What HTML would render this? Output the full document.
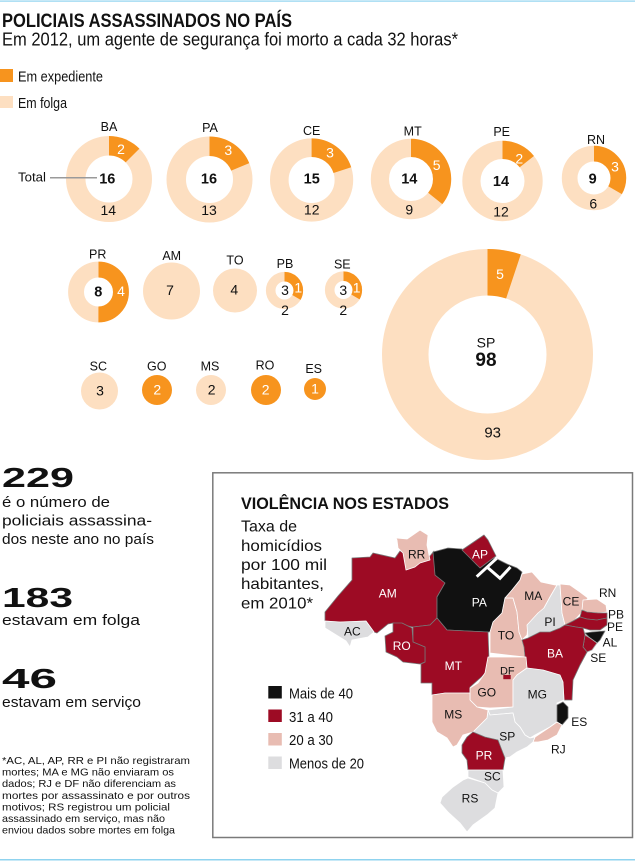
<!DOCTYPE html>
<html>
<head>
<meta charset="utf-8">
<style>
html,body{margin:0;padding:0;background:#fff;}
svg{display:block;}
text{font-family:"Liberation Sans",sans-serif;fill:#111;}
.w{fill:#fff;}
.b{font-weight:bold;}
</style>
</head>
<body>
<svg width="635" height="865" viewBox="0 0 635 865" xmlns="http://www.w3.org/2000/svg">
<rect width="635" height="865" fill="#fff"/>
<!-- top / bottom blue lines -->
<rect x="0" y="0.5" width="635" height="1.2" fill="#8fd3ef"/>
<rect x="0" y="859" width="635" height="1.5" fill="#8fd3ef"/>

<!-- Title -->
<text x="2" y="27" font-size="19.5" font-weight="bold" textLength="290" lengthAdjust="spacingAndGlyphs">POLICIAIS ASSASSINADOS NO PAÍS</text>
<text x="2" y="45.5" font-size="18" textLength="456" lengthAdjust="spacingAndGlyphs">Em 2012, um agente de segurança foi morto a cada 32 horas*</text>

<!-- legend -->
<rect x="0" y="69" width="13" height="13" fill="#f7941e"/>
<text x="18" y="81.5" font-size="14.5" textLength="85" lengthAdjust="spacingAndGlyphs">Em expediente</text>
<rect x="0" y="96" width="13" height="12" fill="#fddfc1"/>
<text x="18" y="108" font-size="14.5" textLength="49" lengthAdjust="spacingAndGlyphs">Em folga</text>

<!-- Row 1 donuts -->
<g fill="none">
  <circle cx="109" cy="179" r="33.25" stroke="#fddfc1" stroke-width="19.5"/>
  <circle cx="109" cy="179" r="33.25" stroke="#f7941e" stroke-width="19.5" stroke-dasharray="26.1 400" transform="rotate(-90 109 179)"/>
  <circle cx="209.5" cy="179.5" r="33.25" stroke="#fddfc1" stroke-width="19.5"/>
  <circle cx="209.5" cy="179.5" r="33.25" stroke="#f7941e" stroke-width="19.5" stroke-dasharray="39.2 400" transform="rotate(-90 209.5 179.5)"/>
  <circle cx="311.6" cy="180" r="32.3" stroke="#fddfc1" stroke-width="18.6"/>
  <circle cx="311.6" cy="180" r="32.3" stroke="#f7941e" stroke-width="18.6" stroke-dasharray="40.6 400" transform="rotate(-90 311.6 180)"/>
  <circle cx="411" cy="179" r="31.1" stroke="#fddfc1" stroke-width="18.2"/>
  <circle cx="411" cy="179" r="31.1" stroke="#f7941e" stroke-width="18.2" stroke-dasharray="69.8 400" transform="rotate(-90 411 179)"/>
  <circle cx="502.5" cy="181" r="31.1" stroke="#fddfc1" stroke-width="18.2"/>
  <circle cx="502.5" cy="181" r="31.1" stroke="#f7941e" stroke-width="18.2" stroke-dasharray="27.9 400" transform="rotate(-90 502.5 181)"/>
  <circle cx="594" cy="178" r="24.35" stroke="#fddfc1" stroke-width="15.7"/>
  <circle cx="594" cy="178" r="24.35" stroke="#f7941e" stroke-width="15.7" stroke-dasharray="51 400" transform="rotate(-90 594 178)"/>
  <circle cx="98.5" cy="292" r="22.45" stroke="#fddfc1" stroke-width="15.9"/>
  <circle cx="98.5" cy="292" r="22.45" stroke="#f7941e" stroke-width="15.9" stroke-dasharray="70.5 400" transform="rotate(-90 98.5 292)"/>
  <circle cx="284.5" cy="290.5" r="13.8" stroke="#fddfc1" stroke-width="9.6"/>
  <circle cx="284.5" cy="290.5" r="13.8" stroke="#f7941e" stroke-width="9.6" stroke-dasharray="28.9 400" transform="rotate(-90 284.5 290.5)"/>
  <circle cx="343.5" cy="290" r="13.8" stroke="#fddfc1" stroke-width="9.6"/>
  <circle cx="343.5" cy="290" r="13.8" stroke="#f7941e" stroke-width="9.6" stroke-dasharray="28.9 400" transform="rotate(-90 343.5 290)"/>
  <circle cx="487.5" cy="354.5" r="82.25" stroke="#fddfc1" stroke-width="46.5"/>
  <circle cx="487.5" cy="354.5" r="82.25" stroke="#f7941e" stroke-width="46.5" stroke-dasharray="26.4 700" transform="rotate(-90 487.5 354.5)"/>
</g>
<!-- full circles -->
<circle cx="171.5" cy="291" r="28.5" fill="#fddfc1"/>
<circle cx="235" cy="290.5" r="22" fill="#fddfc1"/>
<circle cx="99.5" cy="391" r="18.5" fill="#fddfc1"/>
<circle cx="157" cy="390" r="15" fill="#f7941e"/>
<circle cx="211" cy="390" r="15" fill="#fddfc1"/>
<circle cx="266" cy="390" r="15" fill="#f7941e"/>
<circle cx="315" cy="389" r="11" fill="#f7941e"/>

<!-- Total pointer -->
<text x="18" y="181.5" font-size="13" textLength="28" lengthAdjust="spacingAndGlyphs">Total</text>
<line x1="50" y1="177.7" x2="97" y2="177.7" stroke="#9a9a9a" stroke-width="1.5"/>

<!-- labels -->
<g font-size="12.5" text-anchor="middle">
  <text x="109" y="131.2">BA</text>
  <text x="210" y="132.2">PA</text>
  <text x="311.7" y="135.2">CE</text>
  <text x="412.7" y="135.5">MT</text>
  <text x="501.7" y="136.2">PE</text>
  <text x="596" y="143.8">RN</text>
  <text x="97.7" y="258.5">PR</text>
  <text x="171.7" y="260.2">AM</text>
  <text x="235" y="264.5">TO</text>
  <text x="285" y="267.8">PB</text>
  <text x="342.3" y="268.5">SE</text>
  <text x="98.3" y="370.5">SC</text>
  <text x="156.7" y="370.5">GO</text>
  <text x="210" y="370.5">MS</text>
  <text x="265" y="369.5">RO</text>
  <text x="313.7" y="372.8">ES</text>
</g>
<!-- totals -->
<g font-size="14.5" font-weight="bold" text-anchor="middle">
  <text x="107.3" y="183.5">16</text>
  <text x="209" y="183.5">16</text>
  <text x="311.7" y="183.5">15</text>
  <text x="409.3" y="183.5">14</text>
  <text x="501" y="186">14</text>
  <text x="592.7" y="183.5">9</text>
  <text x="98.3" y="296.3">8</text>
</g>
<!-- bottom numbers -->
<g font-size="14" text-anchor="middle">
  <text x="108.3" y="215">14</text>
  <text x="209" y="215">13</text>
  <text x="311.7" y="214.3">12</text>
  <text x="409.3" y="214.3">9</text>
  <text x="501" y="216.7">12</text>
  <text x="593.3" y="208.3">6</text>
  <text x="170" y="295">7</text>
  <text x="234.3" y="294.3">4</text>
  <text x="285" y="295">3</text>
  <text x="285" y="315">2</text>
  <text x="343.3" y="295">3</text>
  <text x="343.3" y="315">2</text>
  <text x="100" y="395.7">3</text>
  <text x="211.7" y="394.3">2</text>
</g>
<!-- orange numbers -->
<g font-size="14" text-anchor="middle">
  <text class="w" x="121" y="154">2</text>
  <text class="w" x="228.3" y="155">3</text>
  <text class="w" x="330" y="157.7">3</text>
  <text class="w" x="436.7" y="170">5</text>
  <text class="w" x="519.3" y="163.3">2</text>
  <text class="w" x="615" y="171.7">3</text>
  <text class="w" x="121" y="296">4</text>
  <text class="w" x="298.3" y="292.7">1</text>
  <text class="w" x="356.7" y="292.7">1</text>
  <text class="w" x="157.3" y="394.3">2</text>
  <text class="w" x="265.7" y="394.3">2</text>
  <text class="w" x="315" y="393.3">1</text>
  <text class="w" x="500" y="279">5</text>
</g>
<!-- SP texts -->
<text x="486" y="347.3" font-size="14" text-anchor="middle">SP</text>
<text x="486" y="366" font-size="19" font-weight="bold" text-anchor="middle">98</text>
<text x="492.7" y="437.5" font-size="15" text-anchor="middle">93</text>

<!-- Left stats -->
<text x="2" y="487" font-size="28" font-weight="bold" textLength="72" lengthAdjust="spacingAndGlyphs">229</text>
<g font-size="14.5">
  <text x="2" y="507" textLength="108" lengthAdjust="spacingAndGlyphs">é o número de</text>
  <text x="2" y="525.5" textLength="150" lengthAdjust="spacingAndGlyphs">policiais assassina-</text>
  <text x="2" y="543.8" textLength="152" lengthAdjust="spacingAndGlyphs">dos neste ano no país</text>
</g>
<text x="2" y="607" font-size="28" font-weight="bold" textLength="71" lengthAdjust="spacingAndGlyphs">183</text>
<text x="2" y="625" font-size="14.5" textLength="138" lengthAdjust="spacingAndGlyphs">estavam em folga</text>
<text x="2" y="688" font-size="28" font-weight="bold" textLength="55" lengthAdjust="spacingAndGlyphs">46</text>
<text x="2" y="707" font-size="14.5" textLength="139" lengthAdjust="spacingAndGlyphs">estavam em serviço</text>

<!-- footnote -->
<g font-size="10.5">
  <text x="2" y="764" textLength="188" lengthAdjust="spacingAndGlyphs">*AC, AL, AP, RR e PI não registraram</text>
  <text x="2" y="775.6" textLength="172" lengthAdjust="spacingAndGlyphs">mortes; MA e MG não enviaram os</text>
  <text x="2" y="787.2" textLength="174" lengthAdjust="spacingAndGlyphs">dados; RJ e DF não diferenciam as</text>
  <text x="2" y="798.8" textLength="188" lengthAdjust="spacingAndGlyphs">mortes por assassinato e por outros</text>
  <text x="2" y="810.4" textLength="168" lengthAdjust="spacingAndGlyphs">motivos; RS registrou um policial</text>
  <text x="2" y="822" textLength="163" lengthAdjust="spacingAndGlyphs">assassinado em serviço, mas não</text>
  <text x="2" y="833.6" textLength="173" lengthAdjust="spacingAndGlyphs">enviou dados sobre mortes em folga</text>
</g>

<!-- Map box -->
<rect x="212.8" y="472.8" width="419.7" height="364.7" fill="none" stroke="#7a7a7a" stroke-width="1.5"/>
<text x="241" y="509" font-size="17" font-weight="bold" textLength="208" lengthAdjust="spacingAndGlyphs">VIOLÊNCIA NOS ESTADOS</text>
<g font-size="16">
  <text x="241" y="531.7" textLength="56" lengthAdjust="spacingAndGlyphs">Taxa de</text>
  <text x="241" y="551" textLength="81" lengthAdjust="spacingAndGlyphs">homicídios</text>
  <text x="241" y="570.2" textLength="86" lengthAdjust="spacingAndGlyphs">por 100 mil</text>
  <text x="241" y="589.2" textLength="83" lengthAdjust="spacingAndGlyphs">habitantes,</text>
  <text x="241" y="608.3" textLength="72" lengthAdjust="spacingAndGlyphs">em 2010*</text>
</g>

<!-- map legend -->
<rect x="268.3" y="686" width="13.5" height="12.5" fill="#111"/>
<rect x="268.3" y="709.5" width="13.5" height="12.5" fill="#9d0b24"/>
<rect x="268.3" y="733" width="13.5" height="12.5" fill="#e8bcb2"/>
<rect x="268.3" y="756.5" width="13.5" height="12.5" fill="#dddddf"/>
<g font-size="15">
  <text x="289" y="698.3" textLength="64" lengthAdjust="spacingAndGlyphs">Mais de 40</text>
  <text x="289" y="721.8" textLength="44" lengthAdjust="spacingAndGlyphs">31 a 40</text>
  <text x="289" y="745.2" textLength="44" lengthAdjust="spacingAndGlyphs">20 a 30</text>
  <text x="289" y="768.6" textLength="75" lengthAdjust="spacingAndGlyphs">Menos de 20</text>
</g>

<!-- Map states -->
<g stroke-width="0.8" stroke-linejoin="round">
  <polygon fill="#9d0b24" stroke="#777" points="325,612 338,596 352,580 352,558 370,557 373,553 395,558 400,551 410,556 430,556 434,551 435,575 445,583 437,597 437,618 430,625 413,627 393,623 388,624 377,633 374,632 366,621 340,622 325,621"/>
  <polygon fill="#dddddf" stroke="#fff" points="325,621 340,622 366,621 374,632 368,637 352,640 350,647 346,641 325,628"/>
  <polygon fill="#e8bcb2" stroke="#fff" points="396,538 407,539 420,530 428,535 427,545 430,560 420,563 415,567 406,570 403,553 398,548 397,540"/>
  <polygon fill="#111" stroke="#777" points="433,552 448,548 462,549 477,565 487,561 495,558 507,564 517,568 522,572 520,580 512,590 505,598 502,613 493,622 490,632 487,632 447,630 437,618 437,597 445,583 435,575"/>
  <polygon fill="#9d0b24" stroke="#777" points="462,550 484,535 488,540 496,556 480,568"/>
  <polygon fill="#9d0b24" stroke="#777" points="413,627 430,625 437,618 447,630 488,632 489,660 487,672 470,687 470,693 445,693 432,695 432,683 421,683 421,664 425,662 425,647 413,642"/>
  <polygon fill="#9d0b24" stroke="#777" points="385,636 393,632 393,623 402,623 412,628 413,642 425,647 425,662 420,664 403,662 397,657 386,652"/>
  <polygon fill="#e8bcb2" stroke="#fff" points="505,598 513,598 517,612 519,632 522,640 524,647 525,657 507,655 490,653 490,632 493,622 502,613"/>
  <polygon fill="#e8bcb2" stroke="#fff" points="522,574 532,572 541,582 555,585 557,585 550,597 544,608 541,620 528,625 527,635 522,640 519,632 517,612 513,598 505,598 512,590 520,580"/>
  <polygon fill="#dddddf" stroke="#fff" points="557,585 560,585 562,613 565,625 560,628 550,632 540,632 528,638 527,625 538,613 544,608 550,597"/>
  <polygon fill="#e8bcb2" stroke="#fff" points="560,584 570,585 580,592 588,598 583,605 582,612 573,622 565,625 562,613"/>
  <polygon fill="#e8bcb2" stroke="#fff" points="583,600 597,599 606,605 607,612 598,613 587,612 582,610"/>
  <polygon fill="#9d0b24" stroke="#777" points="582,610 587,612 598,613 607,613 607,618 597,620 587,619 580,617"/>
  <polygon fill="#9d0b24" stroke="#777" points="565,625 573,621 580,617 587,619 597,620 607,618 607,625 600,630 590,630 583,628 576,627"/>
  <polygon fill="#111" stroke="#777" points="585,633 592,632 605,631 600,640 597,643 590,638"/>
  <polygon fill="#9d0b24" stroke="#aaa" points="585,635 590,638 597,643 592,650 587,652 583,647"/>
  <polygon fill="#9d0b24" stroke="#777" points="522,640 528,638 540,632 550,632 560,628 565,625 576,627 583,628 585,635 583,647 587,652 580,665 573,680 572,700 564,700 563,682 560,675 543,670 527,668 526,660 525,657 524,647"/>
  <polygon fill="#e8bcb2" stroke="#fff" points="488,657 526,657 527,668 517,675 513,680 513,707 490,708 477,707 470,700 470,688 478,683 485,673"/>
  <polygon fill="#dddddf" stroke="#fff" points="517,675 527,668 543,670 560,675 563,682 564,700 557,703 557,722 550,727 535,735 530,738 525,735 520,727 515,722 513,713 490,715 488,710 513,707 513,680"/>
  <polygon fill="#111" stroke="#777" points="563,702 568,707 568,718 562,725 557,722 557,705"/>
  <polygon fill="#e8bcb2" stroke="#fff" points="557,722 562,725 557,735 548,740 538,742 533,742 535,737 550,727"/>
  <polygon fill="#dddddf" stroke="#fff" points="488,710 490,715 513,713 515,722 520,727 525,735 530,738 535,737 533,742 527,747 517,752 510,757 505,758 503,753 498,740 485,737 473,732 478,727 487,718"/>
  <polygon fill="#e8bcb2" stroke="#fff" points="432,695 445,693 470,693 470,700 477,707 488,710 487,718 478,727 473,732 463,735 457,745 453,747 447,738 437,732 432,722"/>
  <polygon fill="#9d0b24" stroke="#777" points="462,745 467,737 473,732 485,737 498,740 503,753 505,758 503,770 468,770 467,760 462,753"/>
  <polygon fill="#dddddf" stroke="#fff" points="468,770 503,770 504,787 498,793 492,790 485,783 468,777"/>
  <polygon fill="#dddddf" stroke="#fff" points="468,778 485,783 492,790 498,793 495,808 487,815 473,825 467,832 460,823 448,812 440,803 442,797 453,787 463,780"/>
  <rect x="503.3" y="675" width="7.4" height="4.2" fill="#9d0b24" stroke="none"/>
</g>
<!-- Marajó white lines -->
<polyline points="476.7,576.7 496.7,558.3" fill="none" stroke="#fff" stroke-width="3"/>
<polyline points="486.7,566.7 500,578.3 510.5,567" fill="none" stroke="#fff" stroke-width="3"/>

<!-- Map labels -->
<g font-size="12" text-anchor="middle">
  <text x="416.7" y="558.6">RR</text>
  <text class="w" x="480" y="558.6">AP</text>
  <text class="w" x="387.7" y="597.6">AM</text>
  <text class="w" x="479.3" y="606.6">PA</text>
  <text x="533.3" y="600">MA</text>
  <text x="571" y="605.3">CE</text>
  <text x="607.7" y="597">RN</text>
  <text x="616" y="618.6">PB</text>
  <text x="615" y="631">PE</text>
  <text x="610" y="646.6">AL</text>
  <text x="598.3" y="662">SE</text>
  <text x="550" y="626">PI</text>
  <text x="352.3" y="635.3">AC</text>
  <text class="w" x="401.7" y="650">RO</text>
  <text x="506" y="639.3">TO</text>
  <text class="w" x="555" y="657.6">BA</text>
  <text class="w" x="453.3" y="670">MT</text>
  <text x="507.3" y="674.5" font-size="11">DF</text>
  <text x="486.7" y="696.6">GO</text>
  <text x="537.3" y="698.6">MG</text>
  <text x="453.3" y="718.6">MS</text>
  <text x="579.3" y="726">ES</text>
  <text x="507.3" y="740.3">SP</text>
  <text x="558.3" y="753.6">RJ</text>
  <text class="w" x="484" y="759.3">PR</text>
  <text x="492.3" y="780.3">SC</text>
  <text x="470" y="802.6">RS</text>
</g>
</svg>
</body>
</html>
